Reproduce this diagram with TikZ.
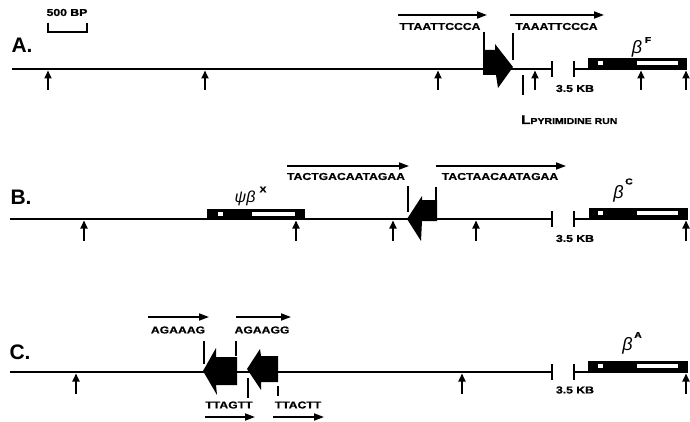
\documentclass[tikz,border=0pt]{standalone}
\usepackage{fontspec}
\usetikzlibrary{arrows.meta}
\newfontfamily\seqfont{Liberation Sans Bold}[FakeStretch=1.22,FakeBold=1]
\newfontfamily\labfont{Liberation Sans Bold}
\newfontfamily\grkfont{Liberation Sans Italic}
\tikzset{
  dna/.style={line width=1.8pt},
  ticksty/.style={line width=1.7pt},
  site/.style={line width=1.8pt,-{Triangle[length=8pt,width=7pt]}},
  seqarr/.style={line width=1.7pt,-{Triangle[length=10pt,width=7pt]}},
  seq/.style={font=\seqfont\fontsize{10}{10}\selectfont,inner sep=0pt},
  sup/.style={font=\seqfont\fontsize{8.5}{8.5}\selectfont,inner sep=0pt},
  panel/.style={font=\labfont\fontsize{21}{21}\selectfont,inner sep=0pt},
  betasty/.style={font=\grkfont\fontsize{18}{18}\selectfont,inner sep=0pt},
  blk/.style={fill=black},
  win/.style={fill=white}
}
\begin{document}
\begin{tikzpicture}[x=1pt,y=-1pt]
\useasboundingbox (0,0) rectangle (690,422);
% ---------- scale bar
\node[seq] (bp) at (67,12.5) {500 BP};
\draw[ticksty] (48,23) -- (48,32) -- (87,32) -- (87,23);
% ================= PANEL A (L=69)
\node[panel] (pA) at (22,45) {A.};
\coordinate (a0) at (12,69); \coordinate (a1) at (552,69);
\draw[dna] (a0) -- (a1);
\draw[ticksty] (552,61) -- (552,77);
\draw[ticksty] (574,61) -- (574,77);
\draw[dna] (574,69) -- (588,69);
\fill[blk] (588,58) rectangle (687,70);
\fill[win] (598,61) rectangle (603,65);
\fill[win] (637,61) rectangle (678,65);
\foreach \x in {48,205,438,535,641,686} \draw[site] (\x,90) -- (\x,70.5);
\fill[blk] (483,50) -- (495,50) -- (495,44) -- (513,67) -- (498,88) -- (496,75) -- (483,75) -- cycle;
\draw[ticksty] (484,32) -- (484,50);
\draw[ticksty] (513,33) -- (513,60);
\draw[ticksty] (523,75) -- (523,95);
\coordinate (sa1) at (398,15); \coordinate (ea1) at (487,15);
\draw[seqarr] (sa1) -- (ea1);
\node[seq] (ta1) at (440,26.5) {TTAATTCCCA};
\coordinate (sa2) at (510,15); \coordinate (ea2) at (604,15);
\draw[seqarr] (sa2) -- (ea2);
\node[seq] (ta2) at (556.5,26.5) {TAAATTCCCA};
\node[seq] (kbA) at (575,88.5) {3.5 KB};
\node[seq,anchor=base west] (pyr) at (521,124) {{\fontsize{12.5}{12.5}\selectfont L}{\fontsize{8.6}{8.6}\selectfont PYRIMIDINE RUN}};
\node[betasty] (bF) at (637,49) {β};
\node[sup] (bFs) at (648,40) {F};
% ================= PANEL B (L=219)
\node[panel] (pB) at (21,197.5) {B.};
\coordinate (b0) at (10,219); \coordinate (b1) at (552,219);
\draw[dna] (b0) -- (b1);
\draw[ticksty] (552,211) -- (552,227);
\draw[ticksty] (574,211) -- (574,227);
\draw[dna] (574,219) -- (589,219);
\fill[blk] (589,208) rectangle (688,220);
\fill[win] (598,211) rectangle (603,215);
\fill[win] (637,211) rectangle (678,215);
\fill[blk] (207,209) rectangle (305,220);
\fill[win] (218,212) rectangle (223,216);
\fill[win] (252,212) rectangle (295,216);
\foreach \x in {84,296,393,476,686} \draw[site] (\x,241) -- (\x,220.5);
\fill[blk] (437,200) -- (422,200) -- (422,196) -- (407,219) -- (421,241) -- (422,221) -- (437,221) -- cycle;
\draw[ticksty] (408,186) -- (408,212);
\draw[ticksty] (436,187) -- (436,201);
\coordinate (sb1) at (287,166); \coordinate (eb1) at (409,166);
\draw[seqarr] (sb1) -- (eb1);
\node[seq] (tb1) at (346,176.5) {TACTGACAATAGAA};
\coordinate (sb2) at (436,166); \coordinate (eb2) at (566,166);
\draw[seqarr] (sb2) -- (eb2);
\node[seq] (tb2) at (500,176.5) {TACTAACAATAGAA};
\node[seq] (kbB) at (575,238.5) {3.5 KB};
\node[betasty] (bC) at (618.5,194) {β};
\node[sup] (bCs) at (629,181.5) {C};
\node[betasty,font=\grkfont\fontsize{16}{16}\selectfont] (psi) at (245,198) {ψβ};
\node[sup] (psis) at (263,189.5) {X};
% ================= PANEL C (L=372)
\node[panel] (pC) at (20,352) {C.};
\coordinate (c0) at (10,372); \coordinate (c1) at (552,372);
\draw[dna] (c0) -- (c1);
\draw[ticksty] (552,364) -- (552,380);
\draw[ticksty] (574,364) -- (574,380);
\draw[dna] (574,372) -- (588,372);
\fill[blk] (588,361) rectangle (688,373);
\fill[win] (598,364) rectangle (603,368);
\fill[win] (637,364) rectangle (678,368);
\foreach \x in {76,462,686} \draw[site] (\x,394) -- (\x,373.5);
\fill[blk] (237,357) -- (216,357) -- (216,348) -- (203,371) -- (217,395) -- (216,385) -- (237,385) -- cycle;
\fill[blk] (278,356) -- (261,356) -- (260,349) -- (247,369) -- (261,390) -- (261,382) -- (278,382) -- cycle;
\draw[ticksty] (204,341) -- (204,364);
\draw[ticksty] (236,341) -- (236,356);
\draw[ticksty] (248,378) -- (248,398);
\draw[ticksty] (278,386) -- (278,396);
\coordinate (sc1) at (148,317); \coordinate (ec1) at (209,317);
\draw[seqarr] (sc1) -- (ec1);
\node[seq] (tc1) at (178,330) {AGAAAG};
\coordinate (sc2) at (236,317); \coordinate (ec2) at (291,317);
\draw[seqarr] (sc2) -- (ec2);
\node[seq] (tc2) at (262,330) {AGAAGG};
\node[seq] (tc3) at (229,405) {TTAGTT};
\coordinate (sc3) at (205,417); \coordinate (ec3) at (255,417);
\draw[seqarr] (sc3) -- (ec3);
\node[seq] (tc4) at (298,405) {TTACTT};
\coordinate (sc4) at (273,417); \coordinate (ec4) at (324,417);
\draw[seqarr] (sc4) -- (ec4);
\node[seq] (kbC) at (575,390) {3.5 KB};
\node[betasty] (bA) at (627.5,346) {β};
\node[sup] (bAs) at (638,335) {A};
\end{tikzpicture}
\end{document}
